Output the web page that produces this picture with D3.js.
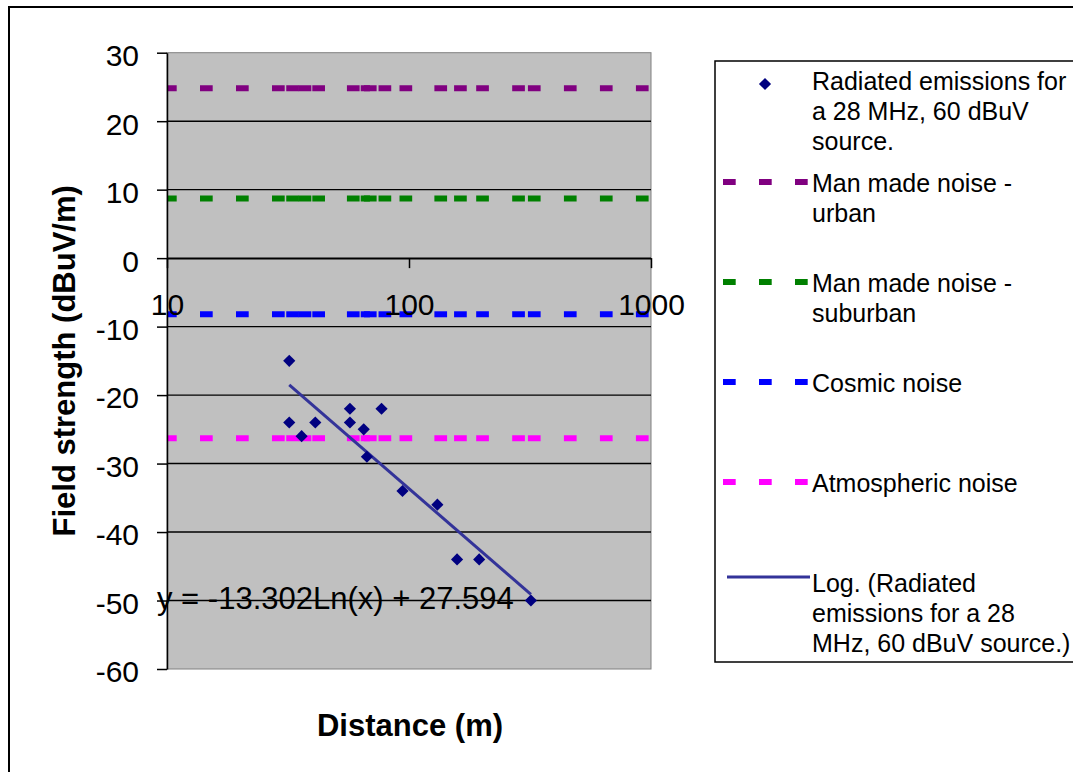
<!DOCTYPE html>
<html>
<head>
<meta charset="utf-8">
<script src="https://cdn.jsdelivr.net/npm/d3@7"></script>
<style>
  body { margin: 0; background: #fff; }
  svg { display: block; font-family: "Liberation Sans", Arial, sans-serif; }
</style>
</head>
<body>
<div id="chart"></div>
<script>
// measured points
const distances     = [32, 32, 36, 41, 57, 57, 65, 67, 77, 94, 131, 158, 195, 319];
const fieldStrength = [-15, -24, -26, -24, -22, -24, -25, -29, -22, -34, -36, -44, -44, -50];

// noise floors (drawn through the same x positions as the measurements)
const noiseNames     = ["Man made noise - urban", "Man made noise - suburban", "Cosmic noise", "Atmospheric noise"];
const noiseLevels    = [24.8, 8.7, -8.2, -26.3];
const noiseDistances = [10, 32, 36, 41, 57, 65, 67, 77, 94, 131, 158, 195, 319, 1000];

// log trendline shown on the chart
const trendA = -13.302;
const trendB = 27.594;

const xTicks = [10, 100, 1000];
const yTicks = [-60, -50, -40, -30, -20, -10, 0, 10, 20, 30];

const noiseColors = ["#800080", "#008000", "#0000ff", "#ff00ff"];
const markerColor = "#000080";
const trendColor = "#333399";

let svgWidth = 1073, svgHeight = 772;
let plot = { left: 167, right: 651, top: 52.7, bottom: 669 };

let svg = d3.select("#chart").append("svg")
  .attr("width", svgWidth)
  .attr("height", svgHeight);

// chart area border
svg.append("rect")
  .attr("x", 9).attr("y", 7)
  .attr("width", 1200).attr("height", 900)
  .attr("fill", "#fff").attr("stroke", "#000").attr("stroke-width", 2);

let xScale = d3.scaleLog().domain([10, 1000]).range([plot.left, plot.right]);
let yScale = d3.scaleLinear().domain([-60, 30]).range([plot.bottom, plot.top]);

svg.append("defs").append("clipPath").attr("id", "clip")
  .append("rect")
  .attr("x", plot.left).attr("y", plot.top)
  .attr("width", plot.right - plot.left).attr("height", plot.bottom - plot.top);

// plot area
svg.append("rect")
  .attr("x", plot.left).attr("y", plot.top)
  .attr("width", plot.right - plot.left).attr("height", plot.bottom - plot.top)
  .attr("fill", "#c0c0c0").attr("stroke", "#808080").attr("stroke-width", 1);

// gridlines
svg.append("g").selectAll("line")
  .data(yTicks.filter(d => d > -60 && d < 30))
  .enter().append("line")
  .attr("x1", plot.left).attr("x2", plot.right)
  .attr("y1", d => yScale(d)).attr("y2", d => yScale(d))
  .attr("stroke", "#000").attr("stroke-width", 1.4);

// noise lines: each segment drawn on its own so the dash restarts (like Excel)
let noiseG = svg.append("g").attr("clip-path", "url(#clip)");
noiseLevels.forEach((lvl, i) => {
  let pts = noiseDistances.map(d => [xScale(d), yScale(lvl)]);
  noiseG.append("g").selectAll("line")
    .data(d3.pairs(pts))
    .enter().append("line")
    .attr("x1", p => p[0][0]).attr("y1", p => p[0][1])
    .attr("x2", p => p[1][0]).attr("y2", p => p[1][1])
    .attr("stroke", noiseColors[i])
    .attr("stroke-width", 6)
    .attr("stroke-linecap", "square")
    .attr("stroke-dasharray", "6.7 29.3");
});

// trendline (straight on a log axis)
let trendX = d3.extent(distances);
svg.append("path")
  .datum(trendX)
  .attr("d", d3.line().x(d => xScale(d)).y(d => yScale(trendA * Math.log(d) + trendB)))
  .attr("fill", "none")
  .attr("stroke", trendColor)
  .attr("stroke-width", 3);

// points
let diamond = d3.symbol().type(d3.symbolSquare).size(74);
svg.append("g").selectAll("path")
  .data(distances.map((d, i) => [d, fieldStrength[i]]))
  .enter().append("path")
  .attr("d", diamond)
  .attr("transform", d => `translate(${xScale(d[0])},${yScale(d[1])}) rotate(45)`)
  .attr("fill", markerColor);

// axes
let leftAxis = svg.append("g")
  .attr("transform", `translate(${plot.left},0)`)
  .call(d3.axisLeft(yScale).tickValues(yTicks).tickFormat(d => String(d))
    .tickSize(10).tickSizeOuter(0).tickPadding(18));
leftAxis.select(".domain").attr("stroke", "#000").attr("stroke-width", 1.5);
leftAxis.selectAll(".tick line").attr("stroke", "#000").attr("stroke-width", 1.5);
leftAxis.selectAll("text")
  .attr("font-size", 30).attr("fill", "#000").attr("dy", "0.43em")
  .style("font-family", "Liberation Sans, Arial, sans-serif");

let bottomAxis = svg.append("g")
  .attr("transform", `translate(0,${yScale(0)})`)
  .call(d3.axisBottom(xScale).tickValues(xTicks).tickFormat(d => String(d))
    .tickSize(10).tickSizeOuter(0).tickPadding(26));
bottomAxis.select(".domain").attr("stroke", "#000").attr("stroke-width", 1.5);
bottomAxis.selectAll(".tick line").attr("stroke", "#000").attr("stroke-width", 1.5);
bottomAxis.selectAll("text")
  .attr("font-size", 30).attr("fill", "#000")
  .style("font-family", "Liberation Sans, Arial, sans-serif");

// trend equation
svg.append("text")
  .attr("x", 157).attr("y", 609)
  .attr("font-size", 31)
  .text("y = -13.302Ln(x) + 27.594");

// axis titles
svg.append("text")
  .attr("transform", `translate(75, ${(plot.top + plot.bottom) / 2}) rotate(-90)`)
  .attr("text-anchor", "middle")
  .attr("font-size", 31).attr("font-weight", "bold")
  .text("Field strength (dBuV/m)");
svg.append("text")
  .attr("x", 410).attr("y", 736)
  .attr("text-anchor", "middle")
  .attr("font-size", 31).attr("font-weight", "bold")
  .text("Distance (m)");

// legend
let legend = svg.append("g");
legend.append("rect")
  .attr("x", 715).attr("y", 61)
  .attr("width", 500).attr("height", 601)
  .attr("fill", "#fff").attr("stroke", "#000").attr("stroke-width", 1.5);

let legendItems = [
  { kind: "marker", y: 84, lines: ["Radiated emissions for", "a 28 MHz, 60 dBuV", "source."], base: 90 },
  { kind: "noise", idx: 0, y: 182, lines: ["Man made noise -", "urban"], base: 192 },
  { kind: "noise", idx: 1, y: 282, lines: ["Man made noise -", "suburban"], base: 292 },
  { kind: "noise", idx: 2, y: 382, lines: ["Cosmic noise"], base: 392 },
  { kind: "noise", idx: 3, y: 482, lines: ["Atmospheric noise"], base: 492 },
  { kind: "trend", y: 577, lines: ["Log. (Radiated", "emissions for a 28", "MHz, 60 dBuV source.)"], base: 592 }
];

legendItems.forEach(item => {
  if (item.kind === "marker") {
    legend.append("path")
      .attr("d", diamond)
      .attr("transform", `translate(765,${item.y}) rotate(45)`)
      .attr("fill", markerColor);
  } else if (item.kind === "noise") {
    legend.append("line")
      .attr("x1", 726).attr("x2", 805)
      .attr("y1", item.y).attr("y2", item.y)
      .attr("stroke", noiseColors[item.idx])
      .attr("stroke-width", 6)
      .attr("stroke-linecap", "square")
      .attr("stroke-dasharray", "6.7 29.3");
  } else {
    legend.append("line")
      .attr("x1", 727).attr("x2", 810)
      .attr("y1", item.y).attr("y2", item.y)
      .attr("stroke", trendColor).attr("stroke-width", 3);
  }
  let t = legend.append("text")
    .attr("x", 812).attr("y", item.base)
    .attr("font-size", 25);
  item.lines.forEach((ln, j) => {
    t.append("tspan").attr("x", 812).attr("y", item.base + j * 30).text(ln);
  });
});
</script>
</body>
</html>
